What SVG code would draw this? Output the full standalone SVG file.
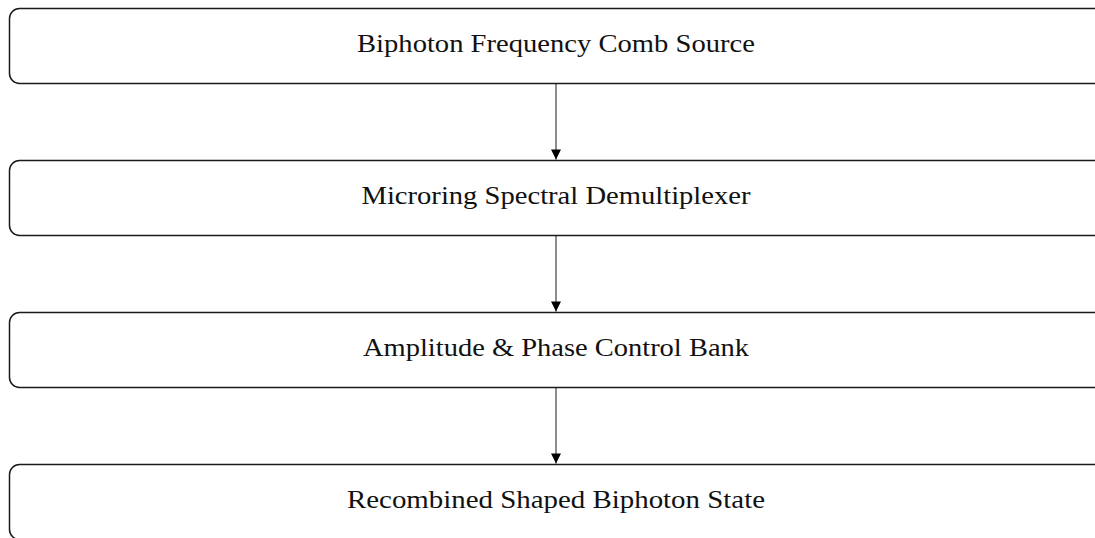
<svg xmlns="http://www.w3.org/2000/svg" width="1095" height="538" viewBox="0 0 1095 538">
<style>
.box{fill:#fff;stroke:#1a1a1a;stroke-width:1.5}
.lbl{font-family:"Liberation Serif","DejaVu Serif",serif;font-size:26px;fill:#111;text-anchor:middle}
.edge{stroke:#666;stroke-width:1.5;fill:none}
</style>
<defs>
<marker id="arr" viewBox="0 0 10 10" refX="10" refY="5" markerWidth="11" markerHeight="10" markerUnits="userSpaceOnUse" orient="auto">
<path d="M0,0 L10,5 L0,10 z" fill="#000"/>
</marker>
</defs>
<rect width="1095" height="538" fill="#fff"/>
<g id="connectors">
<line class="edge" x1="556" y1="83" x2="556" y2="159.5" marker-end="url(#arr)"/>
<line class="edge" x1="556" y1="236" x2="556" y2="311.5" marker-end="url(#arr)"/>
<line class="edge" x1="556" y1="388" x2="556" y2="463.5" marker-end="url(#arr)"/>
</g>
<g id="n1">
<rect class="box" x="9.5" y="8.5" width="1094" height="75" rx="10"/>
<text class="lbl" x="556" y="52" textLength="398" lengthAdjust="spacingAndGlyphs">Biphoton Frequency Comb Source</text>
</g>
<g id="n2">
<rect class="box" x="9.5" y="160.5" width="1094" height="75" rx="10"/>
<text class="lbl" x="556" y="204" textLength="389" lengthAdjust="spacingAndGlyphs">Microring Spectral Demultiplexer</text>
</g>
<g id="n3">
<rect class="box" x="9.5" y="312.5" width="1094" height="75" rx="10"/>
<text class="lbl" x="556" y="356" textLength="386" lengthAdjust="spacingAndGlyphs">Amplitude &amp; Phase Control Bank</text>
</g>
<g id="n4">
<rect class="box" x="9.5" y="464.5" width="1094" height="75" rx="10"/>
<text class="lbl" x="556" y="508" textLength="418" lengthAdjust="spacingAndGlyphs">Recombined Shaped Biphoton State</text>
</g>
</svg>
